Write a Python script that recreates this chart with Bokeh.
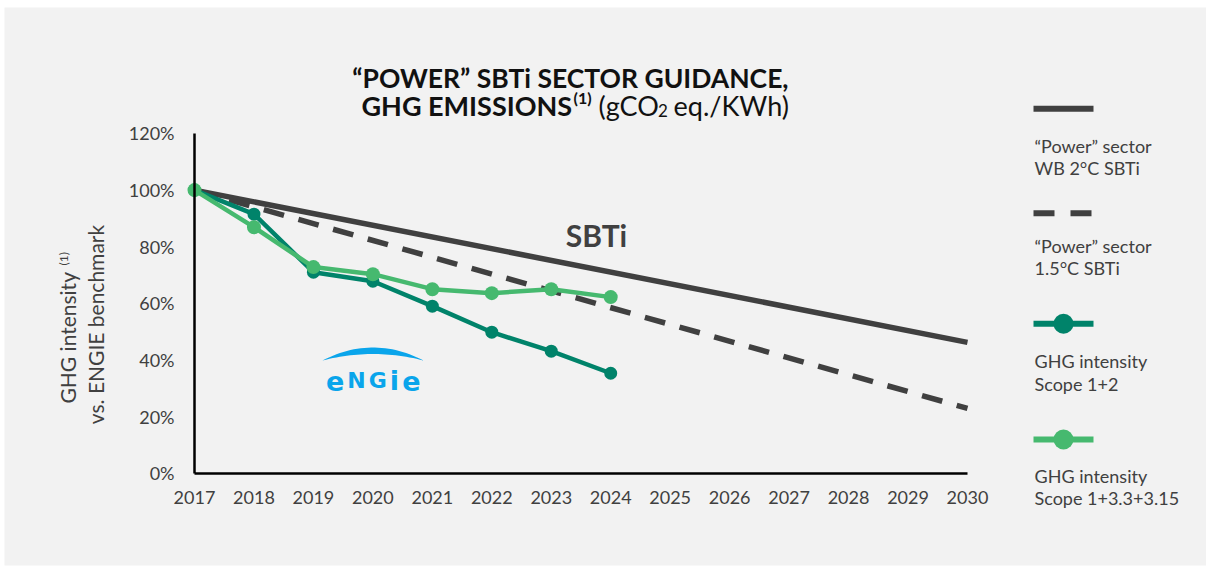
import numpy as np
from bokeh.plotting import figure
from bokeh.models import Range1d, FixedTicker, PrintfTickFormatter, Label
from bokeh.embed import file_html
from bokeh.resources import INLINE

# ---------------- data ----------------
years = [2017, 2018, 2019, 2020, 2021, 2022, 2023, 2024, 2025, 2026, 2027, 2028, 2029, 2030]
sbti_wb2_years = [2017, 2030]
sbti_wb2 = [100, 46.2]          # "Power" sector WB 2°C SBTi
sbti_15_years = [2017, 2030]
sbti_15 = [100, 22.9]           # "Power" sector 1.5°C SBTi
ghg_years = [2017, 2018, 2019, 2020, 2021, 2022, 2023, 2024]
ghg_scope12 = [100, 91.5, 71.0, 67.8, 59.0, 49.8, 43.1, 35.3]
ghg_scope13 = [100, 86.9, 72.8, 70.3, 65.0, 63.6, 65.0, 62.2]
y_ticks = [0, 20, 40, 60, 80, 100, 120]

# ---------------- styling ----------------
GREY = "#404040"
TEAL = "#00836A"
GREEN = "#46B96F"
BG = "#F2F2F2"
FONT = "Lato"
TITLE_C = "#111111"

W, H = 1206, 566
FL, FT, FB = 4, 7, 1      # white margins around the grey panel
X0, XS = 194.0, 59.46     # page px of 2017, px per year
Y0, YS = 472.7, 2.831     # page px of 0 %, px per %


def px2x(px):
    return years[0] + (px - X0) / XS


def px2y(py):
    return (Y0 - py) / YS


p = figure(width=W, height=H, output_backend="svg", toolbar_location=None,
           x_range=Range1d(px2x(FL), px2x(W)),
           y_range=Range1d(px2y(H - FB), px2y(FT)),
           min_border=0, min_border_left=FL, min_border_right=0,
           min_border_top=FT, min_border_bottom=FB)
p.title.visible = False
p.background_fill_color = BG
p.border_fill_color = "white"
p.outline_line_color = None
p.grid.visible = False

# axes
for ax in (p.xaxis, p.yaxis):
    ax.axis_line_color = "black"
    ax.axis_line_width = 2.5
    ax.major_tick_line_color = None
    ax.minor_tick_line_color = None
    ax.major_label_text_font = FONT
    ax.major_label_text_font_size = "18px"
    ax.major_label_text_color = GREY
p.yaxis.fixed_location = years[0]
p.xaxis.fixed_location = 0
p.yaxis.bounds = (y_ticks[0], y_ticks[-1])
p.xaxis.bounds = (years[0], years[-1])
p.yaxis.ticker = FixedTicker(ticks=y_ticks)
p.xaxis.ticker = FixedTicker(ticks=years)
p.yaxis.formatter = PrintfTickFormatter(format="%d%%")
p.xaxis.formatter = PrintfTickFormatter(format="%d")
p.yaxis.major_label_standoff = 14
p.xaxis.major_label_standoff = 12

# series
p.line(sbti_wb2_years, sbti_wb2, line_color=GREY, line_width=5.5)
p.line(sbti_15_years, sbti_15, line_color=GREY, line_width=5.5, line_dash="21 15")
p.line(ghg_years, ghg_scope12, line_color=TEAL, line_width=4.5)
p.scatter(ghg_years, ghg_scope12, size=13, fill_color=TEAL, line_color=None)
p.line(ghg_years, ghg_scope13, line_color=GREEN, line_width=4.5)
p.scatter(ghg_years, ghg_scope13, size=14, fill_color=GREEN, line_color=None)


def lab(text, px, py, size, color=GREY, bold=False, align="left", baseline="middle", angle=0,
        font=FONT):
    p.add_layout(Label(x=px2x(px), y=px2y(py), text=text, text_font=font,
                       text_font_size=f"{size}px", text_color=color,
                       text_font_style="bold" if bold else "normal",
                       text_align=align, text_baseline=baseline, angle=angle))


# title
L1, L2 = 77, 105
lab("\u201cPOWER\u201d SBTi SECTOR GUIDANCE,", 570, L1, 26.5, color=TITLE_C, bold=True,
    align="center", baseline="alphabetic")
lab("GHG EMISSIONS", 361, L2, 27, color=TITLE_C, bold=True, baseline="alphabetic")
lab("(1)", 573, L2 - 8.5, 16, color=TITLE_C, bold=True, baseline="alphabetic")
lab("(gCO", 598, L2, 27, color=TITLE_C, baseline="alphabetic")
lab("2", 657.5, L2 + 5, 17, color=TITLE_C, baseline="alphabetic")
lab("eq./KWh)", 673, L2, 27, color=TITLE_C, baseline="alphabetic")

# y axis label (two rotated lines)
lab("GHG intensity", 67, 403, 21, angle=np.pi / 2)
lab("(1)", 63, 265, 12, angle=np.pi / 2)
lab("vs. ENGIE benchmark", 95, 324, 21, align="center", angle=np.pi / 2)

# SBTi label
lab("SBTi", 596, 234, 30, bold=True, align="center")

# ENGIE logo
BLUE = "#0AA5EB"
t = np.linspace(0, 1, 30)


def qbez(a, c, b):
    return (1 - t) ** 2 * a + 2 * (1 - t) * t * c + t ** 2 * b


ox = qbez(322, 372.5, 423)
oy = qbez(360, 334, 360)
ix = qbez(423, 372.5, 322)
iy = qbez(360, 347, 360)
p.patch(px2x(np.concatenate([ox, ix])), px2y(np.concatenate([oy, iy])),
        fill_color=BLUE, line_color=None)
for ch, cx, sz in [("e", 334.7, 27), ("N", 356, 22), ("G", 377.3, 22), ("i", 394, 27), ("e", 410.8, 27)]:
    lab(ch, cx, 380, sz, color=BLUE, bold=True, align="center", baseline="alphabetic",
        font="DejaVu Sans")

# legend (drawn manually)
LX0, LX1 = 1033, 1093
p.line(px2x(np.array([LX0, LX1])), px2y(np.array([108.3, 108.3])), line_color=GREY, line_width=6)
p.line(px2x(np.array([LX0, LX1])), px2y(np.array([212.7, 212.7])), line_color=GREY, line_width=6,
       line_dash="21 16")
p.line(px2x(np.array([LX0, LX1])), px2y(np.array([323.3, 323.3])), line_color=TEAL, line_width=6)
p.scatter(px2x(np.array([1063])), px2y(np.array([323.3])), size=20, fill_color=TEAL, line_color=None)
p.line(px2x(np.array([LX0, LX1])), px2y(np.array([439, 439])), line_color=GREEN, line_width=6)
p.scatter(px2x(np.array([1063])), px2y(np.array([439])), size=20, fill_color=GREEN, line_color=None)

legend_texts = [
    ("\u201cPower\u201d sector", 145), ("WB 2\u00b0C SBTi", 167.3),
    ("\u201cPower\u201d sector", 245), ("1.5\u00b0C SBTi", 267.3),
    ("GHG intensity", 360.7), ("Scope 1+2", 383.3),
    ("GHG intensity", 475), ("Scope 1+3.3+3.15", 497.3),
]
for txt, py in legend_texts:
    lab(txt, 1034, py, 18)

open("out.html", "w").write(file_html(p, INLINE))
